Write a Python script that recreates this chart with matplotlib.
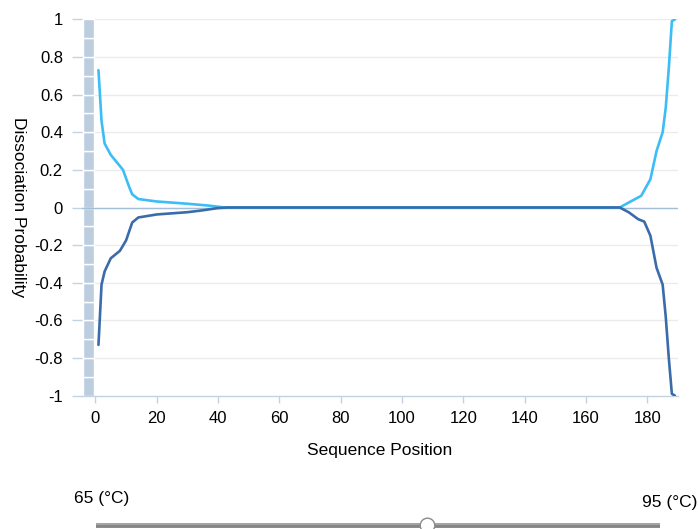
import matplotlib
matplotlib.use('Agg')
from matplotlib import pyplot as plt
import numpy as np

plt.rcParams['font.family'] = ['Liberation Sans', 'DejaVu Sans']

# sequence positions / dissociation probabilities
top_pos = [1, 2, 3, 5, 7, 9, 11, 12, 14, 20, 30, 37, 42, 171, 174, 178, 181, 183, 185, 186, 187, 188, 189]
top_val = [0.73, 0.46, 0.34, 0.28, 0.24, 0.20, 0.11, 0.07, 0.045, 0.032, 0.02, 0.01, 0.0,
           0.0, 0.027, 0.062, 0.15, 0.30, 0.40, 0.53, 0.74, 0.99, 1.0]

bot_pos = [1, 2, 3, 5, 8, 10, 12, 14, 20, 30, 35, 40, 43, 171, 174, 177, 179, 181, 183, 185, 186, 187, 188, 189]
bot_val = [-0.73, -0.41, -0.34, -0.27, -0.23, -0.175, -0.08, -0.053, -0.037, -0.025, -0.015, -0.003, 0.0,
           0.0, -0.026, -0.062, -0.075, -0.15, -0.32, -0.41, -0.58, -0.80, -0.99, -1.0]

x_ticks = list(range(0, 181, 20))
y_ticks = [1, 0.8, 0.6, 0.4, 0.2, 0, -0.2, -0.4, -0.6, -0.8, -1]
y_tick_labels = ['1', '0.8', '0.6', '0.4', '0.2', '0', '-0.2', '-0.4', '-0.6', '-0.8', '-1']

t_min, t_max = 65, 95
t_now = 82.6

light = '#3dbdf5'
dark = '#3b6caa'
axis_col = '#c3d3e4'

fig = plt.figure(figsize=(6.98, 5.29), dpi=100)
ax = fig.add_axes([82/698, 1-395.7/529, 596/698, (395.7-19.3)/529])

# left heat strip
band_y = np.arange(-1, 1, 0.1)
ax.bar(np.full(len(band_y), -4.04), np.full(len(band_y), 0.1), width=3.68, bottom=band_y,
       align='edge', color='#bccde0', edgecolor='white', linewidth=1, zorder=1)

for yt in y_ticks:
    if yt != -1:
        ax.axhline(yt, color='#ebebeb', lw=1, zorder=0)
ax.axhline(0, color='#a3bfd8', lw=1, zorder=2)

ax.plot(top_pos, top_val, color=light, lw=1.9, zorder=3, solid_capstyle='round')
ax.plot(bot_pos, bot_val, color=dark, lw=1.9, zorder=4, solid_capstyle='round')

ax.set_xlim(-4.37, 190)
ax.set_ylim(-1, 1)
ax.set_xticks(x_ticks)
ax.set_yticks(y_ticks)
ax.set_yticklabels(y_tick_labels)

for s in ['top', 'right', 'left']:
    ax.spines[s].set_visible(False)
ax.spines['bottom'].set_color(axis_col)
ax.spines['bottom'].set_linewidth(1)

ax.tick_params(axis='y', length=7.2, width=1, color=axis_col, pad=6.5, labelsize=12)
ax.tick_params(axis='x', length=5, width=1, color=axis_col, pad=6, labelsize=12)

ax.set_xlabel('Sequence Position', fontsize=12.5, labelpad=12)
ax.set_ylabel('Dissociation Probability', fontsize=12.5, rotation=270, va='center', ha='center')
ax.yaxis.set_label_coords(-82/596 + 18/596, 0.5)

# temperature slider
sax = fig.add_axes([96/698, -6/529, 564/698, 20/529])
sax.set_xlim(t_min, t_max)
sax.set_ylim(-1, 1)
sax.axis('off')
sax.plot([t_min, t_max], [0, 0], color='#858585', lw=3.5, solid_capstyle='round')
sax.plot([t_min, t_max], [0.1, 0.1], color='#ababab', lw=1.2)
sax.plot([t_now], [0], 'o', ms=10.5, mfc='white', mec='#8a8a8a', mew=1, clip_on=False)

fig.text(74/698, 1-499/529, '%d (°C)' % t_min, fontsize=12.5, va='center', ha='left')
fig.text(697/698, 1-503/529, '%d (°C)' % t_max, fontsize=12.5, va='center', ha='right')

fig.savefig('out.png', dpi=100)
